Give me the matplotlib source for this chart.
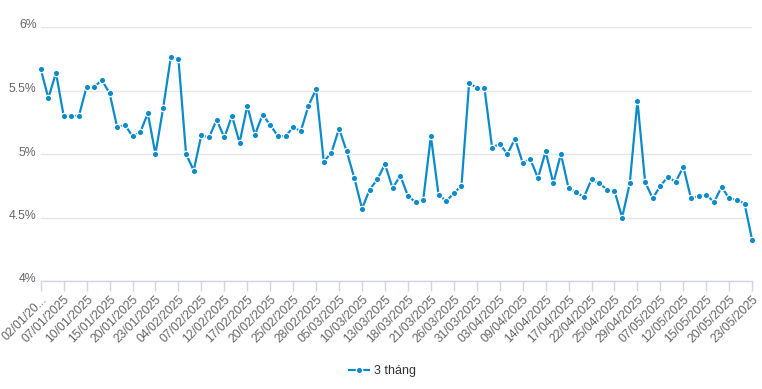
import matplotlib

matplotlib.use("Agg")
import matplotlib.pyplot as plt
from matplotlib.transforms import ScaledTranslation

plt.rcParams["font.family"] = ["Liberation Sans", "DejaVu Sans"]

LINE_COLOR = "#0b8bcc"
GRID_COLOR = "#e6e6e6"
AXIS_COLOR = "#ccd6eb"
LABEL_COLOR = "#666666"

# trading days, 02/01/2025 .. 23/05/2025
dates = (
    [f"{d:02d}/01/2025" for d in [2, 3, 6, 7, 8, 9, 10, 13, 14, 15, 16, 17, 20, 21, 22, 23, 24]]
    + [f"{d:02d}/02/2025" for d in [3, 4, 5, 6, 7, 10, 11, 12, 13, 14, 17, 18, 19, 20, 21, 24, 25, 26, 27, 28]]
    + [f"{d:02d}/03/2025" for d in [3, 4, 5, 6, 7, 10, 11, 12, 13, 14, 17, 18, 19, 20, 21, 24, 25, 26, 27, 28, 31]]
    + [f"{d:02d}/04/2025" for d in [1, 2, 3, 4, 8, 9, 10, 11, 14, 15, 16, 17, 18, 21, 22, 23, 24, 25, 26, 28, 29]]
    + [f"{d:02d}/05/2025" for d in [5, 6, 7, 8, 9, 12, 13, 14, 15, 16, 19, 20, 21, 22, 23]]
)

rate_3m = [
    5.67, 5.44, 5.64, 5.30, 5.30, 5.30, 5.53, 5.53, 5.58, 5.48,
    5.21, 5.23, 5.14, 5.17, 5.32, 5.00, 5.36, 5.76, 5.75, 5.00,
    4.87, 5.15, 5.13, 5.27, 5.13, 5.30, 5.09, 5.38, 5.15, 5.31,
    5.23, 5.14, 5.14, 5.21, 5.18, 5.38, 5.51, 4.94, 5.01, 5.20,
    5.02, 4.81, 4.57, 4.72, 4.80, 4.92, 4.73, 4.83, 4.67, 4.62,
    4.64, 5.14, 4.68, 4.63, 4.69, 4.75, 5.56, 5.52, 5.52, 5.05,
    5.08, 5.00, 5.12, 4.93, 4.96, 4.81, 5.02, 4.77, 5.00, 4.73,
    4.70, 4.66, 4.80, 4.77, 4.72, 4.71, 4.50, 4.77, 5.42, 4.78,
    4.65, 4.75, 4.82, 4.78, 4.90, 4.65, 4.67, 4.68, 4.62, 4.74,
    4.65, 4.64, 4.61, 4.32,
]

y_ticks = [4, 4.5, 5, 5.5, 6]
y_tick_labels = ["4%", "4.5%", "5%", "5.5%", "6%"]

tick_idx = list(range(0, len(dates), 3))
tick_labels = [dates[i] for i in tick_idx]
tick_labels[0] = "02/01/20..."

fig = plt.figure(figsize=(7.62, 3.89), dpi=100)
ax = fig.add_axes([40.7 / 762, 108 / 389, (752.2 - 40.7) / 762, 254 / 389])

x = list(range(len(rate_3m)))
ax.plot(
    x, rate_3m, color=LINE_COLOR, lw=1.6, marker="o", ms=4.6,
    mfc=LINE_COLOR, mec="white", mew=0.9, label="3 tháng", zorder=3,
    clip_on=False,
)

ax.set_xlim(0, len(rate_3m) - 1)
ax.set_ylim(4, 6)
ax.set_yticks(y_ticks)
ax.set_yticklabels(y_tick_labels)
ax.grid(axis="y", color=GRID_COLOR, lw=1)
ax.set_axisbelow(True)

for side in ["top", "right", "left"]:
    ax.spines[side].set_visible(False)
ax.spines["bottom"].set_color(AXIS_COLOR)
ax.spines["bottom"].set_linewidth(1)

ax.tick_params(axis="y", length=0, pad=3, labelsize=8.8, labelcolor=LABEL_COLOR)
lift = ScaledTranslation(0, 3 / 100, fig.dpi_scale_trans)
for lab in ax.get_yticklabels():
    lab.set_transform(lab.get_transform() + lift)

ax.set_xticks(tick_idx)
ax.set_xticklabels(tick_labels, rotation=45, ha="right", rotation_mode="anchor")
ax.tick_params(axis="x", length=7, width=1, color=AXIS_COLOR, pad=2,
               labelsize=8.8, labelcolor=LABEL_COLOR)

leg = fig.legend(
    loc="center", bbox_to_anchor=(382 / 762, 1 - 371 / 389), frameon=False,
    fontsize=9, handlelength=1.6, handletextpad=0.4,
)
for t in leg.get_texts():
    t.set_color("#333333")

fig.savefig("out.png", dpi=100, facecolor="white")
